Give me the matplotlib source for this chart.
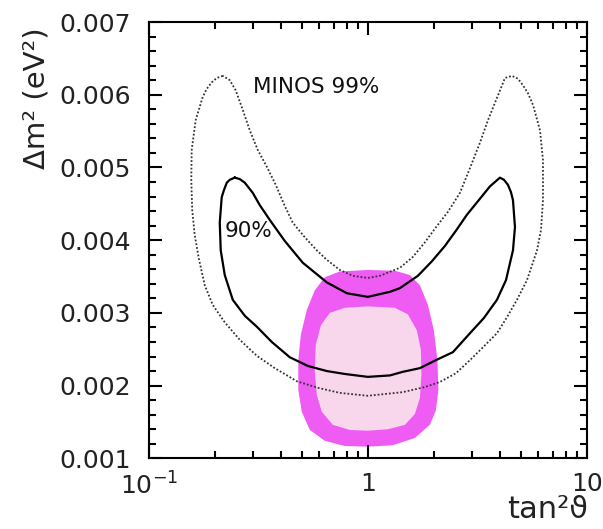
import numpy as np
import matplotlib
matplotlib.use("Agg")
import matplotlib.pyplot as plt
from matplotlib.ticker import FixedLocator, LogLocator, NullFormatter

plt.rcParams['font.family'] = ['DejaVu Sans']
plt.rcParams['mathtext.fontset'] = 'dejavusans'

# MINOS 99% contour (dotted), closed loop
c99_tan2 = [0.2173, 0.2040, 0.1935, 0.1835, 0.176, 0.1634, 0.1567, 0.156, 0.1576, 0.1618,
            0.1688, 0.1798, 0.1955, 0.2219, 0.2599, 0.3109, 0.3756, 0.4735, 0.5906, 0.7447,
            1.0, 1.445, 1.822, 2.134, 2.526, 2.927, 3.391, 3.889, 4.322, 4.801,
            5.333, 5.927, 6.181, 6.312, 6.312, 6.117, 5.683, 5.39, 5.113, 4.852,
            4.555, 4.231, 4.015, 3.538, 3.252, 2.927, 2.634, 2.322, 2.05, 1.822,
            1.606, 1.401, 1.135, 1.0, 0.854, 0.7447, 0.6494, 0.5844, 0.5151, 0.4539,
            0.4173, 0.3796, 0.3452, 0.3141, 0.2887, 0.2683, 0.249, 0.2339, 0.2173]
c99_dm2 = [0.00626, 0.00623, 0.00617, 0.00608, 0.00597, 0.00565, 0.00524, 0.00483, 0.00441, 0.00407,
           0.00375, 0.00338, 0.00311, 0.00287, 0.00263, 0.00241, 0.00224, 0.00206, 0.00197, 0.00190,
           0.00186, 0.00191, 0.00198, 0.00205, 0.00217, 0.00235, 0.00254, 0.00272, 0.00294, 0.00318,
           0.00345, 0.00386, 0.00414, 0.00455, 0.00510, 0.00551, 0.00586, 0.00602, 0.00613, 0.00622,
           0.00626, 0.00623, 0.00606, 0.00565, 0.00534, 0.00499, 0.00465, 0.00439, 0.00418, 0.00397,
           0.00377, 0.00362, 0.00351, 0.00348, 0.00351, 0.00359, 0.00373, 0.00386, 0.00404, 0.00424,
           0.00447, 0.00476, 0.00501, 0.00524, 0.00551, 0.00579, 0.00606, 0.00620, 0.00626]

# MINOS 90% contour (solid), closed loop
c90_tan2 = [0.2465, 0.2339, 0.2266, 0.2195, 0.2149, 0.2105, 0.2127, 0.2219, 0.2414, 0.274,
            0.3109, 0.364, 0.4397, 0.532, 0.6494, 0.785, 1.0, 1.261, 1.445, 1.729,
            2.046, 2.447, 2.927, 3.391, 3.889, 4.276, 4.603, 4.701, 4.603, 4.507,
            4.368, 4.187, 4.015, 3.613, 3.252, 2.836, 2.526, 2.249, 1.962, 1.693,
            1.401, 1.261, 1.0, 0.802, 0.649, 0.504, 0.417, 0.356, 0.321, 0.298,
            0.274, 0.2599, 0.2465]
c90_dm2 = [0.00486, 0.00483, 0.00479, 0.00468, 0.00459, 0.00424, 0.00386, 0.00352, 0.00318, 0.00296,
           0.00281, 0.00260, 0.00239, 0.00227, 0.00220, 0.00216, 0.00212, 0.00214, 0.00219, 0.00224,
           0.00235, 0.00246, 0.00272, 0.00293, 0.00318, 0.00345, 0.00386, 0.00418, 0.00455, 0.00466,
           0.00476, 0.00483, 0.00486, 0.00474, 0.00457, 0.00435, 0.00413, 0.00392, 0.00371, 0.00351,
           0.00334, 0.00329, 0.00322, 0.00327, 0.00342, 0.00369, 0.00399, 0.00428, 0.00448, 0.00465,
           0.00479, 0.00484, 0.00486]

# outer (magenta) allowed region
outer_tan2 = [1.0, 0.7447, 0.636, 0.572, 0.526, 0.494, 0.481, 0.481, 0.499, 0.543,
              0.636, 0.785, 1.0, 1.301, 1.640, 1.920, 2.046, 2.101, 2.079, 2.003,
              1.881, 1.729, 1.556, 1.329]
outer_dm2 = [0.00359, 0.00357, 0.00349, 0.00331, 0.00304, 0.00270, 0.00235, 0.00194, 0.00164, 0.00139,
             0.00124, 0.00117, 0.00116, 0.00118, 0.00128, 0.00146, 0.00166, 0.00194, 0.00235, 0.00276,
             0.00311, 0.00338, 0.00352, 0.00358]

# inner (light pink) allowed region
inner_tan2 = [1.0, 0.785, 0.670, 0.610, 0.578, 0.572, 0.5844, 0.616, 0.692, 0.827,
              1.0, 1.234, 1.476, 1.640, 1.729, 1.757, 1.747, 1.675, 1.523, 1.329]
inner_dm2 = [0.00309, 0.00307, 0.00300, 0.00283, 0.00256, 0.00221, 0.00187, 0.00164, 0.00146, 0.00139,
             0.00138, 0.00140, 0.00146, 0.00161, 0.00183, 0.00215, 0.00249, 0.00276, 0.00298, 0.00307]

y_ticks = [0.001, 0.002, 0.003, 0.004, 0.005, 0.006, 0.007]
x_ticks = [0.1, 1, 10]
x_labels = ['$10^{-1}$', '1', '10']

fig = plt.figure(figsize=(6.03, 5.29), dpi=100)
ax = fig.add_axes([0.2471, 0.1336, 0.7259, 0.8248])

ax.fill(outer_tan2, outer_dm2, color='#ee5cf4', lw=0, zorder=1)
ax.fill(inner_tan2, inner_dm2, color='#f8d6ec', lw=0, zorder=2)
ax.plot(c99_tan2, c99_dm2, color='#333333', lw=1.3, ls=(0, (1, 1.1)), zorder=3)
ax.plot(c90_tan2, c90_dm2, color='black', lw=1.6, zorder=4, solid_joinstyle='round')

ax.set_xscale('log')
ax.set_xlim(0.1, 10)
ax.set_ylim(0.001, 0.007)

ax.set_xticks(x_ticks)
ax.set_xticklabels(x_labels)
ax.xaxis.set_minor_locator(LogLocator(base=10, subs=np.arange(2, 10)))
ax.xaxis.set_minor_formatter(NullFormatter())
ax.yaxis.set_major_locator(FixedLocator(y_ticks))
ax.set_yticklabels(['%.3f' % v for v in y_ticks])
ax.yaxis.set_minor_locator(FixedLocator(np.arange(0.001, 0.00701, 0.0002)))

ax.tick_params(which='both', direction='in', top=True, right=True, width=1.5, color='black')
ax.tick_params(which='major', length=9.5)
ax.tick_params(which='minor', length=5)
ax.tick_params(axis='y', which='major', labelsize=18, pad=13, labelcolor='#222222')
ax.tick_params(axis='x', which='major', labelsize=18, pad=10, labelcolor='#222222')
for s in ax.spines.values():
    s.set_linewidth(1.5)

ax.text(0.298, 0.006106, 'MINOS 99%', fontsize=15.5, va='center', ha='left', color='#111111')
ax.text(0.222, 0.004126, '90%', fontsize=15.5, va='center', ha='left', color='#111111')

fig.text(36 / 603, 1 - 27 / 529, 'Δm² (eV²)', rotation=90, ha='center', va='top',
         fontsize=21, color='#222222')
fig.text(588 / 603, 1 - 524 / 529, 'tan²ϑ', ha='right', va='bottom', fontsize=22, color='#222222')

fig.savefig('out.png', dpi=100)
